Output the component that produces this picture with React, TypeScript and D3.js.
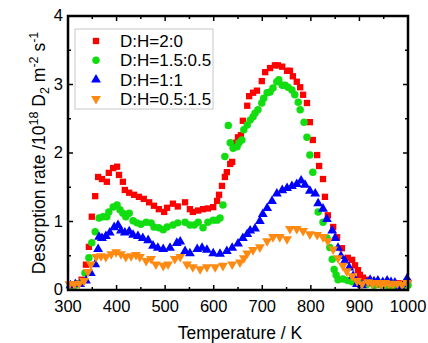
import * as d3 from "d3";

// [temperature K, rate 1e18 D2 m^-2 s^-1]
const seriesNames = ["D:H=2:0", "D:H=1.5:0.5", "D:H=1:1", "D:H=0.5:1.5"];

const redData: [number, number][] = [
  [305, 0.05], [312, 0.08], [320, 0.1], [328, 0.15], [337, 0.37], [343, 0.63], [349, 1.07], [356, 1.37],
  [362, 1.65], [370, 1.62], [380, 1.58], [384, 1.71], [393, 1.78], [401, 1.8], [405, 1.68], [413, 1.58],
  [417, 1.46], [426, 1.42], [436, 1.39], [446, 1.36], [456, 1.33], [467, 1.28], [477, 1.23], [487, 1.18],
  [498, 1.14], [504, 1.2], [516, 1.26], [526, 1.22], [541, 1.28], [551, 1.18], [557, 1.14], [568, 1.16],
  [578, 1.18], [588, 1.19], [599, 1.21], [607, 1.3], [611, 1.39], [617, 1.52], [623, 1.65], [627, 1.72],
  [634, 1.84], [638, 1.87], [646, 2.15], [650, 2.23], [656, 2.26], [660, 2.47], [669, 2.69], [673, 2.83],
  [681, 2.88], [689, 2.91], [699, 3.05], [706, 3.18], [716, 3.24], [726, 3.28], [732, 3.28], [741, 3.26],
  [751, 3.2], [757, 3.2], [763, 3.12], [771, 3.04], [778, 2.96], [784, 2.85], [792, 2.73], [798, 2.45],
  [804, 2.19], [813, 1.97], [817, 1.81], [825, 1.62], [829, 1.36], [835, 1.09], [846, 0.92], [854, 0.77],
  [864, 0.61], [876, 0.47], [885, 0.44], [891, 0.36], [897, 0.29], [901, 0.22], [907, 0.18], [918, 0.15],
  [930, 0.1], [942, 0.08], [955, 0.09], [968, 0.07], [980, 0.1], [990, 0.09], [1000, 0.12],
];

const greenData: [number, number][] = [
  [305, 0.05], [315, 0.07], [325, 0.1], [335, 0.25], [343, 0.47], [349, 0.69], [356, 0.85], [364, 1.05],
  [372, 1.07], [380, 1.07], [384, 1.14], [393, 1.21], [401, 1.24], [407, 1.17], [413, 1.12], [419, 1.07],
  [426, 1.12], [434, 1.01], [442, 0.98], [450, 0.96], [461, 0.99], [471, 0.98], [477, 0.92], [487, 0.91],
  [496, 0.88], [504, 0.92], [516, 0.95], [526, 0.98], [541, 0.99], [551, 0.95], [560, 0.95], [568, 0.99],
  [578, 0.91], [588, 0.99], [599, 1.02], [607, 1.02], [613, 1.05], [619, 1.24], [623, 1.95], [630, 2.4],
  [634, 2.15], [640, 2.07], [648, 2.09], [652, 2.15], [658, 2.19], [662, 2.34], [669, 2.41], [675, 2.48],
  [681, 2.53], [685, 2.58], [691, 2.63], [699, 2.73], [703, 2.8], [710, 2.88], [716, 2.89], [722, 2.95],
  [730, 3.04], [734, 3.07], [741, 2.99], [747, 2.99], [753, 2.96], [761, 2.92], [767, 2.85], [774, 2.74],
  [778, 2.63], [786, 2.45], [792, 2.23], [798, 1.97], [804, 1.72], [815, 1.14], [825, 0.99], [833, 0.76],
  [839, 0.62], [844, 0.45], [848, 0.3], [852, 0.22], [856, 0.15], [866, 0.16], [876, 0.14], [885, 0.12],
  [900, 0.1], [915, 0.08], [930, 0.07], [945, 0.08], [960, 0.06], [975, 0.05], [990, 0.06], [1000, 0.07],
];

const blueData: [number, number][] = [
  [305, 0.08], [315, 0.1], [325, 0.1], [337, 0.15], [347, 0.26], [356, 0.39], [362, 0.61], [364, 0.79],
  [370, 0.77], [378, 0.8], [386, 0.85], [395, 0.93], [403, 0.96], [409, 0.88], [417, 0.85], [426, 0.87],
  [434, 0.82], [444, 0.8], [454, 0.77], [465, 0.74], [475, 0.66], [485, 0.63], [496, 0.61], [510, 0.63],
  [524, 0.7], [531, 0.72], [541, 0.58], [551, 0.55], [566, 0.61], [576, 0.63], [586, 0.6], [599, 0.55],
  [613, 0.54], [627, 0.58], [638, 0.63], [650, 0.69], [660, 0.77], [669, 0.83], [675, 0.88], [685, 0.91],
  [695, 1.02], [701, 1.12], [710, 1.21], [720, 1.31], [730, 1.42], [741, 1.47], [751, 1.5], [761, 1.53],
  [771, 1.56], [780, 1.61], [788, 1.55], [798, 1.46], [809, 1.42], [815, 1.28], [825, 1.2], [833, 1.05],
  [844, 0.88], [850, 0.77], [856, 0.63], [862, 0.51], [870, 0.44], [879, 0.34], [887, 0.22], [895, 0.1],
  [905, 0.08], [915, 0.12], [922, 0.16], [930, 0.14], [938, 0.15], [948, 0.13], [957, 0.15], [965, 0.13],
  [973, 0.12], [984, 0.07], [992, 0.1], [998, 0.18],
];

const orangeData: [number, number][] = [
  [303, 0.07], [313, 0.07], [323, 0.08], [333, 0.12], [341, 0.25], [347, 0.36], [358, 0.47], [368, 0.48],
  [378, 0.47], [389, 0.51], [399, 0.54], [409, 0.51], [419, 0.47], [430, 0.48], [440, 0.5], [448, 0.47],
  [461, 0.41], [471, 0.44], [481, 0.36], [496, 0.34], [506, 0.36], [520, 0.44], [531, 0.47], [545, 0.36],
  [557, 0.32], [572, 0.29], [586, 0.32], [603, 0.32], [619, 0.34], [638, 0.36], [654, 0.39], [662, 0.45],
  [669, 0.52], [681, 0.57], [695, 0.61], [710, 0.7], [722, 0.76], [736, 0.76], [751, 0.73], [757, 0.88],
  [771, 0.88], [784, 0.85], [798, 0.8], [813, 0.79], [825, 0.76], [835, 0.7], [846, 0.58], [856, 0.45],
  [866, 0.34], [874, 0.26], [885, 0.19], [895, 0.12], [905, 0.07], [918, 0.1], [927, 0.08], [936, 0.09],
  [945, 0.07], [953, 0.09], [961, 0.08], [969, 0.07], [978, 0.08], [988, 0.06], [998, 0.09],
];

const xTicks = [300, 400, 500, 600, 700, 800, 900, 1000];
const yTicks = [0, 1, 2, 3, 4];

const width = 428;
const height = 343;
const margin = { top: 16, right: 20, bottom: 53, left: 68 };
const font = "'Liberation Sans', Arial, sans-serif";

const colors = ["#ff0000", "#11dd11", "#0000ff", "#ff8a12"];
const shapes = [d3.symbolSquare, d3.symbolCircle, d3.symbolTriangle, d3.symbolTriangle];
const sizes = [40, 44, 42, 42];
const rotations = [0, 0, 0, 180];
const allData = [redData, greenData, blueData, orangeData];

export default function App() {
  const x = d3.scaleLinear().domain([300, 1000]).range([margin.left, width - margin.right]);
  const y = d3.scaleLinear().domain([0, 4]).range([height - margin.bottom, margin.top]);
  const x0 = x.range()[0], x1 = x.range()[1];
  const y0 = y.range()[0], y1 = y.range()[1];

  const xMinor = d3.range(300, 1001, 50);
  const yMinor = d3.range(0, 4.01, 0.5);
  const paths = shapes.map((s, i) => d3.symbol(s, sizes[i])()!);

  return (
    <svg width={width} height={height} style={{ position: "absolute", left: 0, top: 0, background: "#fff" }} fontFamily={font}>
      {/* series */}
      {allData.map((data, si) => (
        <g key={si} fill={colors[si]}>
          {data.map((d, i) => (
            <path
              key={i}
              d={paths[si]}
              transform={`translate(${x(d[0])},${y(d[1])}) rotate(${rotations[si]})${si >= 2 ? " translate(0,1)" : ""}`}
            />
          ))}
        </g>
      ))}

      {/* ticks, inward on all sides */}
      <g stroke="#000" strokeWidth={1.5}>
        {xMinor.map((t) => {
          const len = t % 100 === 0 ? 5 : 3;
          return (
            <g key={"x" + t}>
              <line x1={x(t)} x2={x(t)} y1={y0} y2={y0 - len} />
              <line x1={x(t)} x2={x(t)} y1={y1} y2={y1 + len} />
            </g>
          );
        })}
        {yMinor.map((t) => {
          const len = t % 1 === 0 ? 5 : 3;
          return (
            <g key={"y" + t}>
              <line x1={x0} x2={x0 + len} y1={y(t)} y2={y(t)} />
              <line x1={x1} x2={x1 - len} y1={y(t)} y2={y(t)} />
            </g>
          );
        })}
      </g>
      <rect x={x0} y={y1} width={x1 - x0} height={y0 - y1} fill="none" stroke="#000" strokeWidth={2.5} />

      {/* tick labels */}
      <g fontSize={16.5} fill="#000">
        {xTicks.map((t) => (
          <text key={t} x={x(t)} y={y0 + 22} textAnchor="middle">{t}</text>
        ))}
        {yTicks.map((t) => (
          <text key={t} x={x0 - 5} y={y(t) + 5} textAnchor="end">{t}</text>
        ))}
      </g>

      {/* axis titles */}
      <text x={(x0 + x1) / 2 + 2} y={339} textAnchor="middle" fontSize={17.5}>Temperature / K</text>
      <text transform={`translate(45,${(y0 + y1) / 2}) rotate(-90)`} textAnchor="middle" fontSize={17.5}>
        Desorption rate /10
        <tspan fontSize={12.5} dy={-7}>18</tspan>
        <tspan dy={7}> D</tspan>
        <tspan fontSize={12.5} dy={4}>2</tspan>
        <tspan dy={-4}> m</tspan>
        <tspan fontSize={12.5} dy={-7}>-2</tspan>
        <tspan dy={7}> s</tspan>
        <tspan fontSize={12.5} dy={-7}>-1</tspan>
      </text>

      {/* legend */}
      <rect x={75} y={29} width={138} height={80} fill="#fff" stroke="#c8c8c8" strokeWidth={1} />
      {seriesNames.map((name, i) => {
        const ly = 41 + i * 19.3;
        return (
          <g key={name}>
            <path d={paths[i]} fill={colors[i]} transform={`translate(96,${ly}) rotate(${rotations[i]})`} />
            <text x={120} y={ly + 6} fontSize={17}>{name}</text>
          </g>
        );
      })}
    </svg>
  );
}
